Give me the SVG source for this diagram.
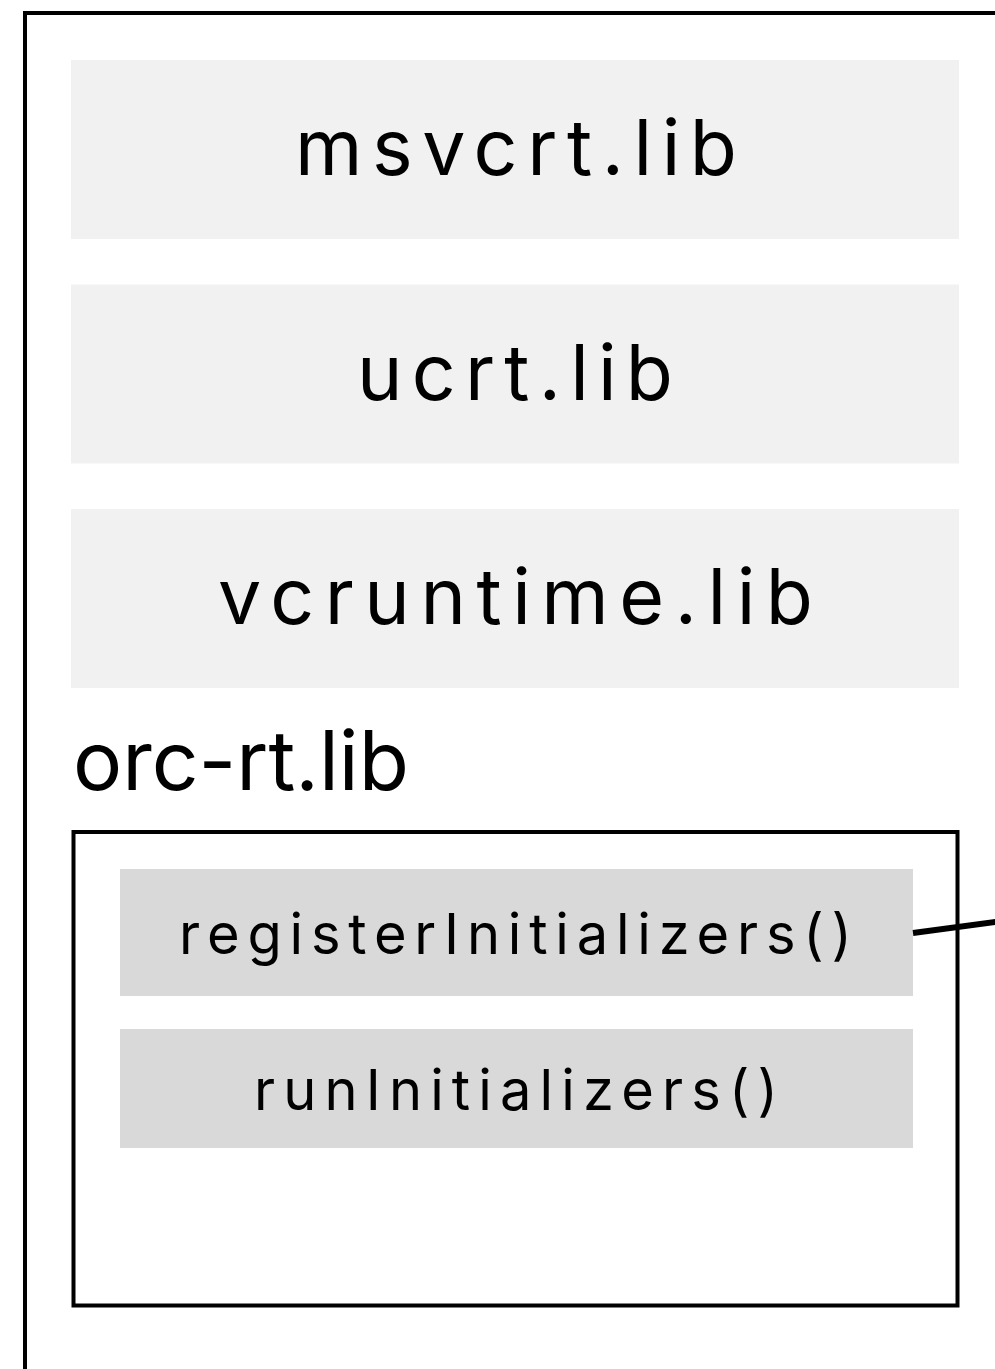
<svg xmlns="http://www.w3.org/2000/svg" width="995" height="1369" viewBox="0 0 995 1369">
<style>
.frame{fill:none;stroke:#000;stroke-width:4}
.lib{fill:#f1f1f1}
.fn{fill:#d9d9d9}
.t{font-family:Inter,"Open Sans","Liberation Sans",sans-serif;fill:#000}
.big{font-size:77px}
.mid{font-size:56px}
.conn{stroke:#000;stroke-width:6;fill:none}
</style>
<rect width="995" height="1369" fill="#fff"/>
<g id="outer"><rect class="frame" x="25" y="13" width="1000" height="1400"/></g>
<g id="msvcrt"><rect class="lib" x="71" y="60" width="888" height="179"/><text class="t big" x="295" y="175" textLength="442" lengthAdjust="spacing">msvcrt.lib</text></g>
<g id="ucrt"><rect class="lib" x="71" y="284.5" width="888" height="179"/><text class="t big" x="357" y="399.5" textLength="316" lengthAdjust="spacing">ucrt.lib</text></g>
<g id="vcruntime"><rect class="lib" x="71" y="509" width="888" height="179"/><text class="t big" x="218" y="624" textLength="595" lengthAdjust="spacing">vcruntime.lib</text></g>
<g id="orc-rt"><text class="t" font-size="82" x="73" y="790" textLength="336" lengthAdjust="spacingAndGlyphs">orc-rt.lib</text><rect class="frame" x="73.5" y="832" width="884" height="473.5"/></g>
<g id="registerInitializers"><rect class="fn" x="120" y="869" width="793" height="127"/><text class="t mid" x="179" y="954" textLength="673" lengthAdjust="spacing">registerInitializers()</text></g>
<g id="runInitializers"><rect class="fn" x="120" y="1029" width="793" height="119"/><text class="t mid" x="254" y="1110" textLength="524" lengthAdjust="spacing">runInitializers()</text></g>
<g id="connectors"><line class="conn" x1="913" y1="933" x2="1000" y2="921.3"/></g>
</svg>
